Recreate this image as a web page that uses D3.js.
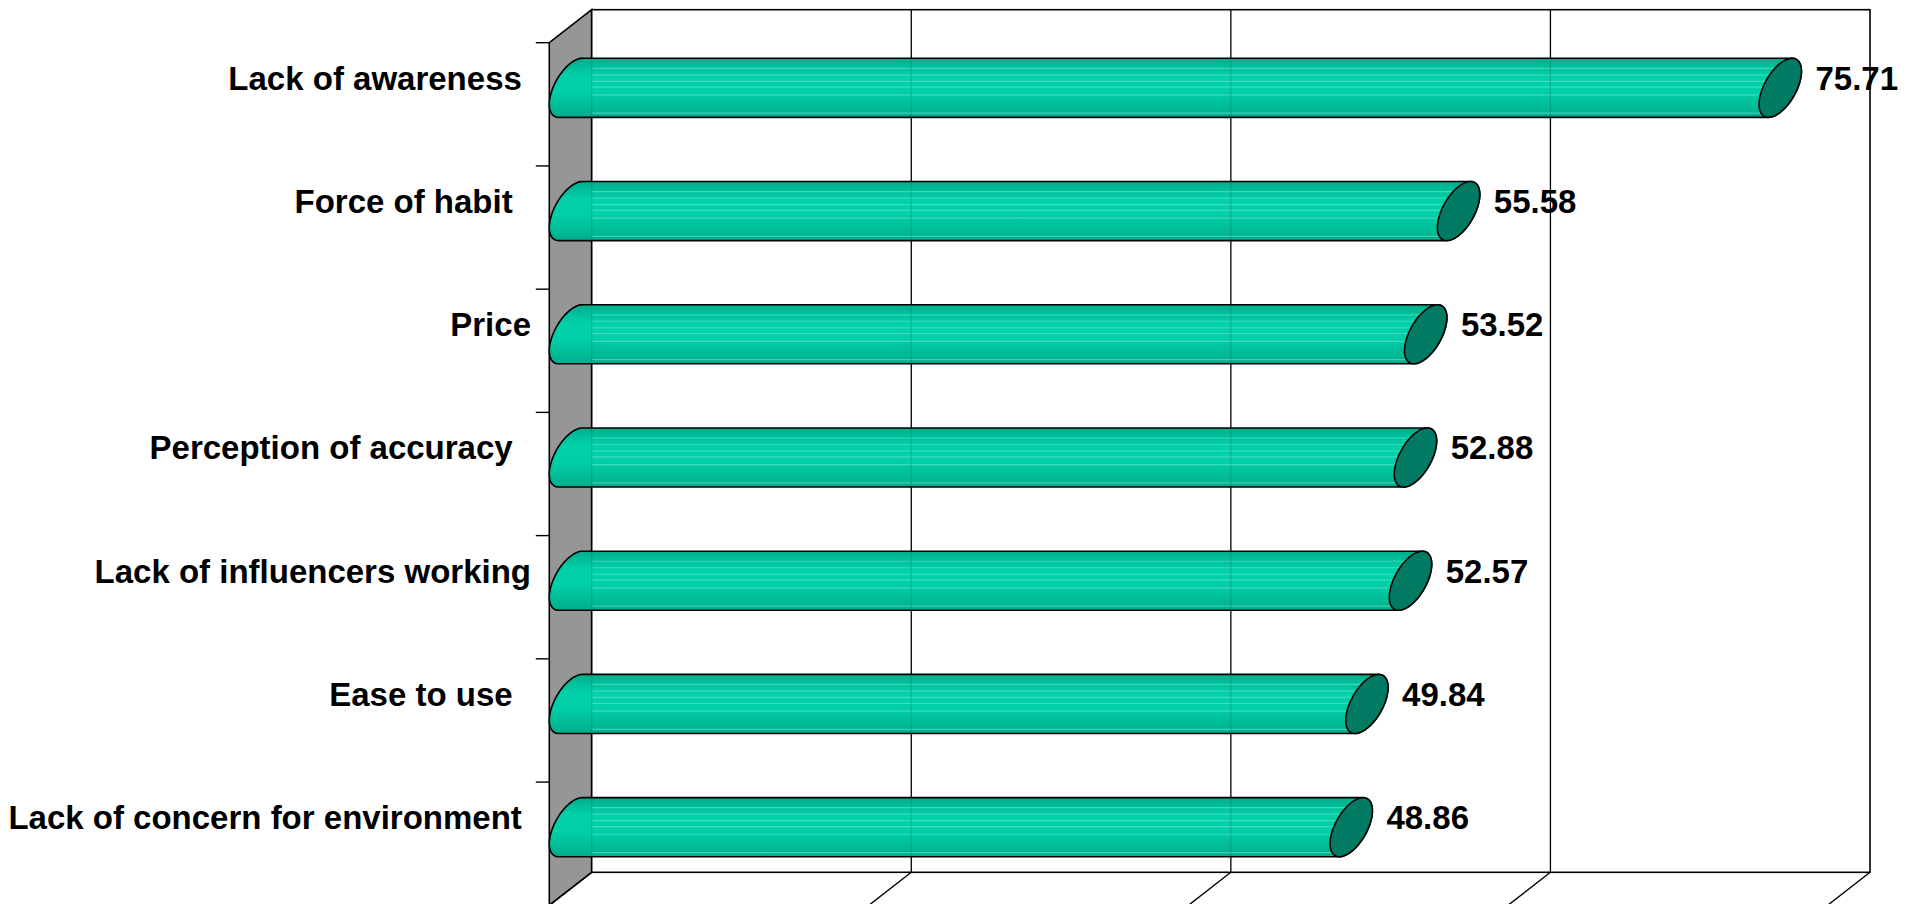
<!DOCTYPE html>
<html>
<head>
<meta charset="utf-8">
<title>Barriers</title>
<script src="https://cdn.jsdelivr.net/npm/d3@7"></script>
<style>
  html, body { margin: 0; padding: 0; background: #ffffff; }
  svg { display: block; }
  text { font-family: "Liberation Sans", Arial, Helvetica, sans-serif; font-weight: bold; white-space: pre; }
</style>
</head>
<body>
<svg id="chart" width="1915" height="904"></svg>
<script>
// Category labels (as typed in the source sheet) and their scores
const categories = [
  "Lack of awareness ",
  "Force of habit  ",
  "Price",
  "Perception of accuracy  ",
  "Lack of influencers working",
  "Ease to use  ",
  "Lack of concern for environment "
];
const values = [75.71, 55.58, 53.52, 52.88, 52.57, 49.84, 48.86];
const gridTicks = [0, 20, 40, 60, 80];

const svg = d3.select("#chart");

// 3-D box: front plane plus an oblique depth offset to the back wall
const depthX = 42.4, depthY = -33;
const x = d3.scaleLinear().domain([0, 80]).range([549.3, 1827.6]);
const y = d3.scaleBand().domain(categories).range([42.7, 905.3]).padding(0);
const bw = y.bandwidth();
const top0 = y.range()[0], bot0 = y.range()[1];

const rows = categories.map((c, i) => ({ cat: c, value: values[i], i }));

// Side wall (grey)
svg.append("path")
  .attr("d", d3.line()([
    [x(0), top0], [x(0) + depthX, top0 + depthY],
    [x(0) + depthX, bot0 + depthY], [x(0), bot0]
  ]) + "Z")
  .attr("fill", "#969696").attr("stroke", "#000").attr("stroke-width", 1.6);

// Back wall
svg.append("rect")
  .attr("x", x(0) + depthX).attr("y", top0 + depthY)
  .attr("width", x(80) - x(0)).attr("height", bot0 - top0)
  .attr("fill", "#fff").attr("stroke", "#000").attr("stroke-width", 1.6);

// Gridlines on the back wall
svg.append("g").selectAll("line").data(gridTicks.slice(1, -1)).join("line")
  .attr("x1", d => x(d) + depthX).attr("x2", d => x(d) + depthX)
  .attr("y1", top0 + depthY).attr("y2", bot0 + depthY)
  .attr("stroke", "#000").attr("stroke-width", 1.3);

// Floor lines running towards the viewer
svg.append("g").selectAll("line").data(gridTicks).join("line")
  .attr("x1", d => x(d) + depthX).attr("y1", bot0 + depthY)
  .attr("x2", d => x(d)).attr("y2", bot0)
  .attr("stroke", "#000").attr("stroke-width", 1.4);

// Category tick marks on the front edge of the side wall
svg.append("g").selectAll("line").data(categories).join("line")
  .attr("x1", x(0) - 13.5).attr("x2", x(0))
  .attr("y1", d => y(d)).attr("y2", d => y(d))
  .attr("stroke", "#000").attr("stroke-width", 1.4);

// Cylinder gradient
const defs = svg.append("defs");
const grad = defs.append("linearGradient").attr("id", "cyl")
  .attr("x1", 0).attr("y1", 0).attr("x2", 0).attr("y2", 1);
[[0, "#00ad8b"], [0.14, "#00bf9b"], [0.32, "#00d1aa"], [0.55, "#00d0a8"],
 [0.78, "#00bf9a"], [1, "#00ad8a"]].forEach(([o, c]) =>
  grad.append("stop").attr("offset", o).attr("stop-color", c));

const ry = 24.5, hx = depthX / 2, hy = depthY / 2;
const tTop = Math.PI - Math.atan(-hy / ry);
const tBot = -Math.atan(-hy / ry);
const barCy = d => y(d.cat) + bw / 2 + hy;
const ellPt = (cx, cy, t) => [cx + hx * Math.sin(t), cy + ry * Math.cos(t) + hy * Math.sin(t)];
const arc = (cx, cy, t0, t1, n) => d3.range(n + 1).map(k => ellPt(cx, cy, t0 + (t1 - t0) * k / n));

function bodyPath(d) {
  const cy = barCy(d);
  const lx = x(0) + hx, rx = x(d.value) + hx;
  const pts = [].concat(
    arc(rx, cy, tTop, tBot, 40),
    arc(lx, cy, tBot, tTop - 2 * Math.PI, 40)
  );
  return d3.line()(pts) + "Z";
}
function capPath(d) {
  const cy = barCy(d);
  return d3.line()(arc(x(d.value) + hx, cy, 0, 2 * Math.PI, 60)) + "Z";
}

const stripeFr = [0.17, 0.28, 0.39, 0.49, 0.62, 0.93];
const bars = svg.append("g").selectAll("g").data(rows).join("g");

bars.append("clipPath").attr("id", d => "clip" + d.i)
  .append("path").attr("d", bodyPath);

bars.append("path").attr("d", bodyPath).attr("fill", "url(#cyl)");

const inner = bars.append("g").attr("clip-path", d => `url(#clip${d.i})`);
inner.each(function (d) {
  const g = d3.select(this);
  const cy = barCy(d), A = Math.hypot(ry, hy);
  const yt = cy - A, h = 2 * A;
  g.selectAll("line.stripe").data(stripeFr).join("line")
    .attr("class", "stripe")
    .attr("x1", x(0) + depthX).attr("x2", x(d.value) + depthX)
    .attr("y1", f => yt + f * h).attr("y2", f => yt + f * h)
    .attr("stroke", "#6fe8cf").attr("stroke-opacity", 0.55).attr("stroke-width", 1.2);
  g.selectAll("line.grid").data(gridTicks.slice(0, -1)).join("line")
    .attr("class", "grid")
    .attr("x1", t => x(t) + depthX).attr("x2", t => x(t) + depthX)
    .attr("y1", yt).attr("y2", yt + h)
    .attr("stroke", "#006650").attr("stroke-opacity", 0.3).attr("stroke-width", 1.2);
});

bars.append("path").attr("d", bodyPath)
  .attr("fill", "none").attr("stroke", "#000").attr("stroke-width", 1.6);

bars.append("path").attr("d", capPath)
  .attr("fill", "#007a62").attr("stroke", "#000").attr("stroke-width", 1.6);

// Category labels
const labelY = d => y(d.cat) + bw / 2 + hy - 10 + 11.8;
svg.append("g").selectAll("text").data(rows).join("text")
  .attr("x", 531).attr("y", labelY)
  .attr("text-anchor", "end").attr("font-size", 33).attr("fill", "#000")
  .text(d => d.cat);

// Value labels
svg.append("g").selectAll("text").data(rows).join("text")
  .attr("x", d => x(d.value) + depthX + 14).attr("y", labelY)
  .attr("font-size", 33).attr("fill", "#000")
  .text(d => d3.format(".2f")(d.value));
</script>
</body>
</html>
